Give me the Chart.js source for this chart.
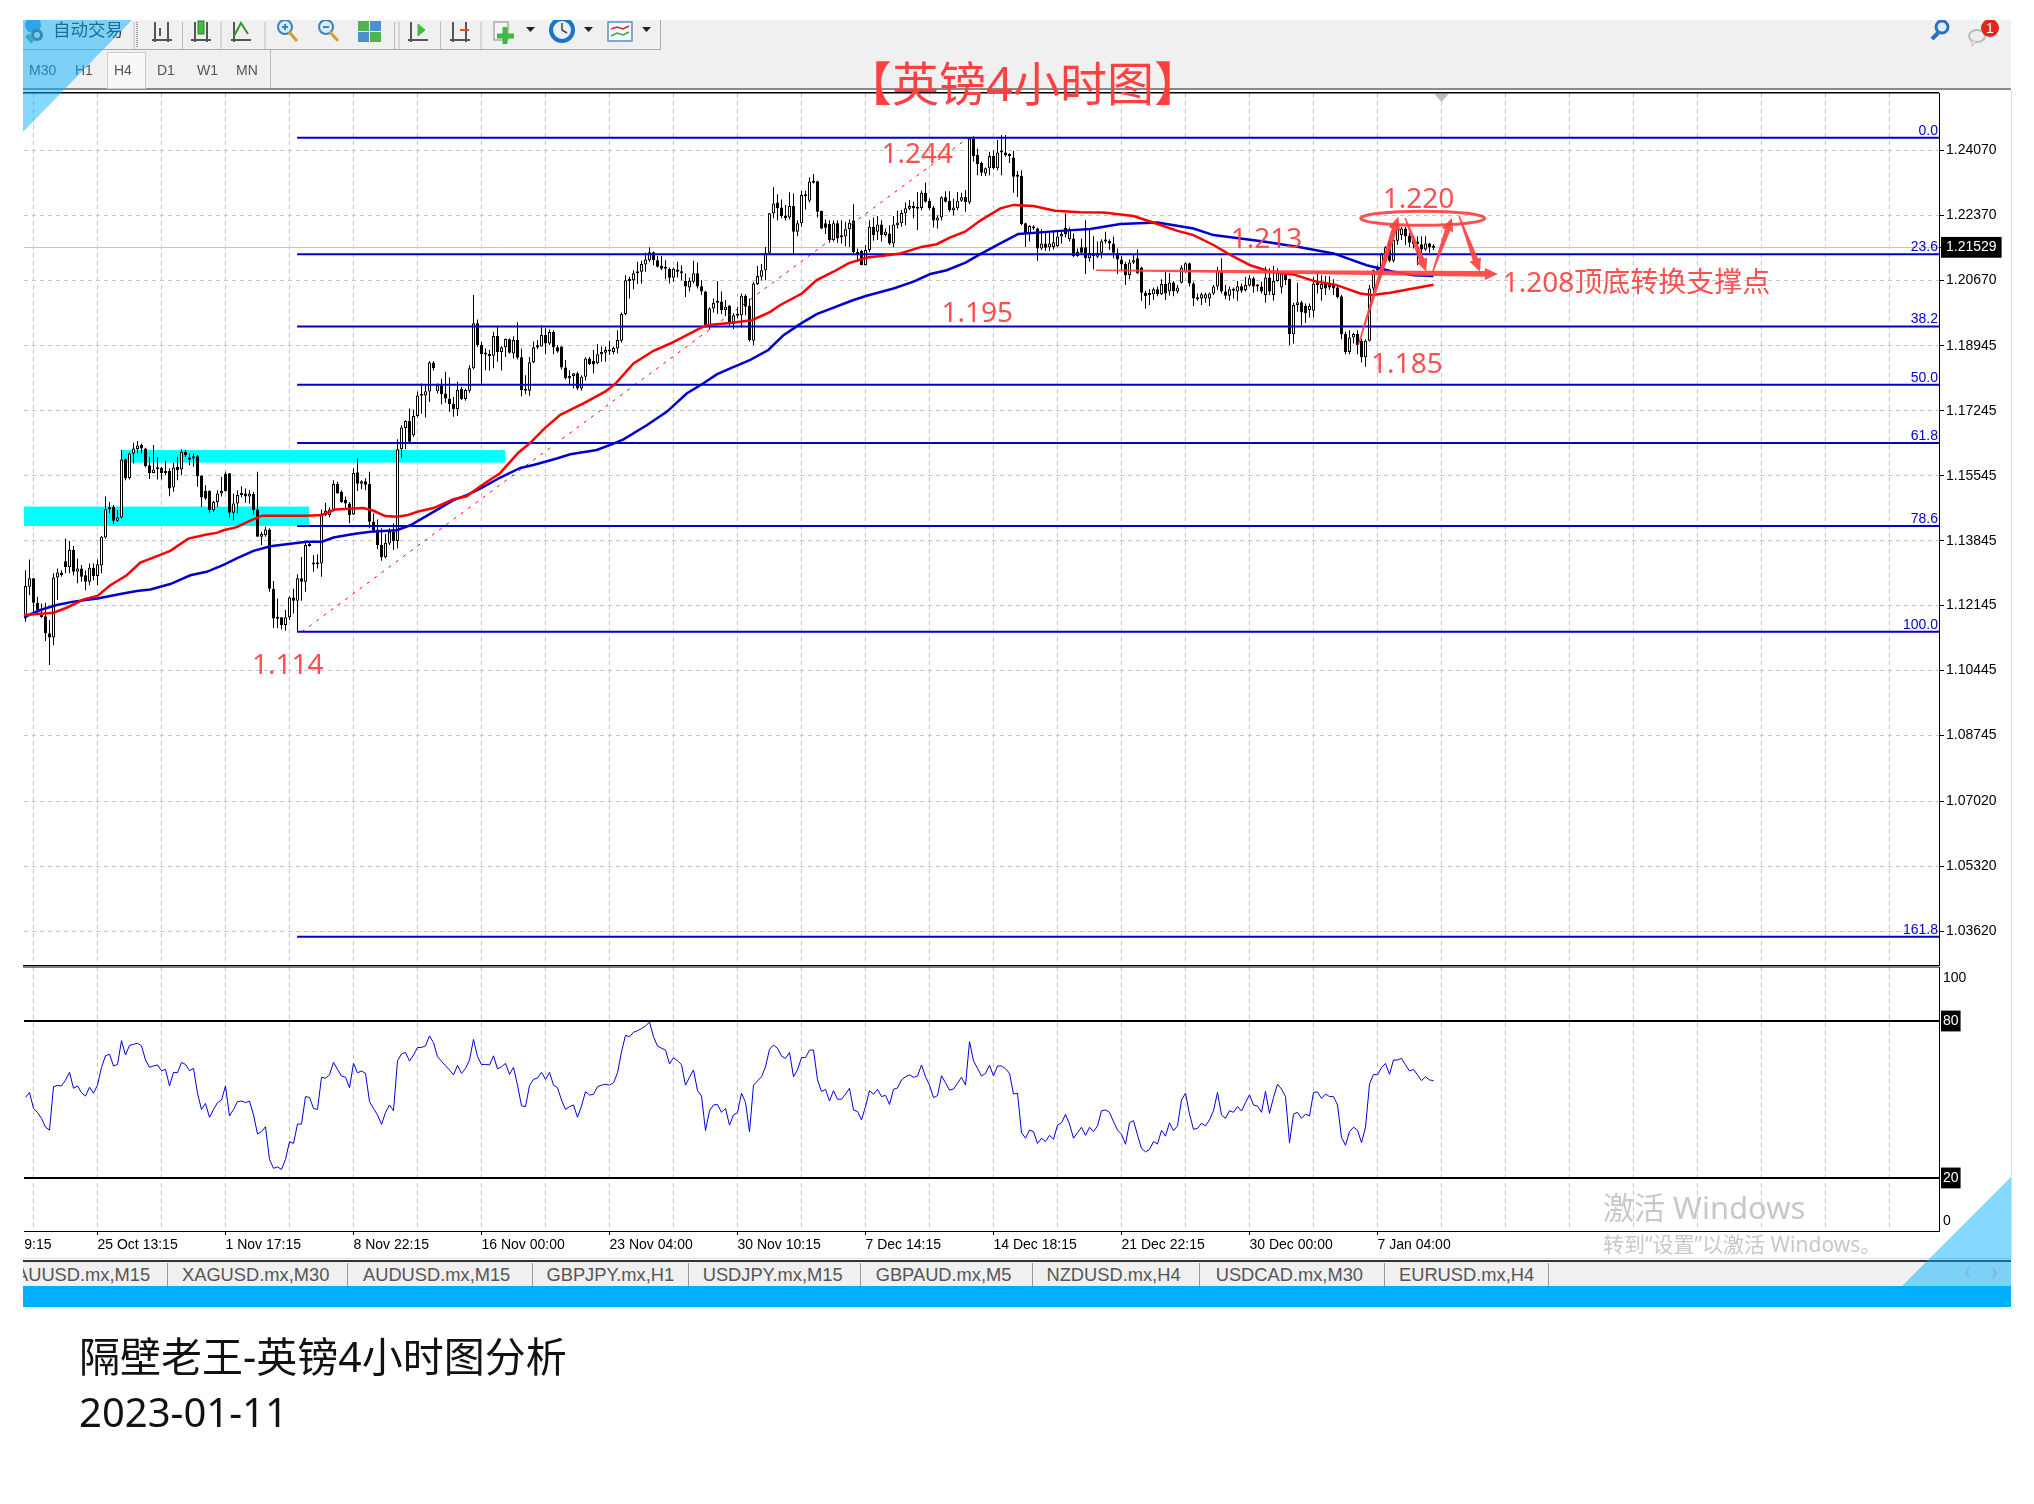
<!DOCTYPE html>
<html lang="zh">
<head>
<meta charset="utf-8">
<title>英镑4小时图</title>
<script src="https://cdn.jsdelivr.net/npm/chart.js@4/dist/chart.umd.min.js"></script>
<style>
  html, body { margin: 0; padding: 0; background: #fff; }
  #stage { position: relative; width: 2034px; height: 1504px; overflow: hidden; font-family: "Liberation Sans", sans-serif; }
  #stage > * { position: absolute; }
  .bar { background: #f0f0f0; }
  .t { white-space: nowrap; line-height: 1; }
  .cjk { font-family: "Noto Sans", "Noto Sans CJK SC", sans-serif; }
  .period { top: 63px; font-size: 14px; color: #555; }
  .tab { top: 1266px; font-size: 18.3px; color: #555; }
  .sep { width: 1px; background: #999; }
</style>
</head>
<body>
<div id="stage">
  <div class="bar" style="left:23px;top:20px;width:1988px;height:68px"></div>
  <div style="left:23px;top:49px;width:637px;height:1px;background:#aaa"></div>
  <div style="left:660px;top:20px;width:1px;height:30px;background:#aaa"></div>
  <div style="left:23px;top:88px;width:1988px;height:2px;background:#8a8a8a"></div>
  <div style="left:107px;top:52px;width:37px;height:35px;border:1px solid #ccc;background:#f8f8f8"></div>
  <div style="left:270px;top:50px;width:1px;height:38px;background:#bbb"></div>
  <div style="left:2011px;top:90px;width:1px;height:1170px;background:#ddd"></div>

  <canvas id="priceChart" width="2034" height="967" style="left:0;top:0"></canvas>
  <canvas id="rsiChart" width="2034" height="306" style="left:0;top:966px"></canvas>

  <div style="left:23px;top:1258px;width:1988px;height:1px;background:#ddd"></div>
  <div class="bar" style="left:23px;top:1262px;width:1988px;height:24px"></div>
  <div style="left:23px;top:1260px;width:1988px;height:2px;background:#333"></div>
  <div style="left:23px;top:1286px;width:1988px;height:21px;background:#00b0ff"></div>
  <div id="tabs" style="left:23px;top:0;width:1988px;height:1504px;overflow:hidden;pointer-events:none"></div>

  <svg width="2034" height="100" style="left:0;top:0">
    <defs><clipPath id="tbClip"><rect x="23" y="20" width="1988" height="70"/></clipPath></defs>
    <g clip-path="url(#tbClip)" fill="none" stroke="#555" stroke-width="2">
      <circle cx="33" cy="25" r="8" fill="#5b9bd5" stroke="none"/>
      <circle cx="37" cy="35" r="6" fill="#666" stroke="none"/>
      <circle cx="37" cy="35" r="3" fill="#e8e8e8" stroke="none"/>
      <path d="M27 35l6 7" stroke="#6fb36f" stroke-width="5"/>
      <path d="M134 22v27M182.500 22v27M221 22v27M265 22v27M394.500 22v27M399 22v27M440.500 22v27M481 22v27" stroke="#bbb" stroke-width="1"/>
      <path d="M137 22v26" stroke="#999" stroke-dasharray="1 1" stroke-width="2"/>
      <path d="M152 40h20M155 22v20M168 22v20M160 28v8"/>
      <path d="M191 40h20M195 22v20M207 22v20"/>
      <rect x="198" y="21" width="6" height="13" fill="#3fbf3f" stroke="#2a8a2a" stroke-width="1"/>
      <path d="M231 40h20M234 22v20"/>
      <path d="M234 36l7-13 7 11" stroke="#2c9a2c"/>
      <circle cx="285" cy="27" r="7" fill="#d8ecfa" stroke="#3f7fc0"/>
      <path d="M289 32l8 9" stroke="#d0a030" stroke-width="3"/>
      <path d="M282 27h6M285 24v6" stroke="#3f7fc0"/>
      <circle cx="326" cy="27" r="7" fill="#d8ecfa" stroke="#3f7fc0"/>
      <path d="M330 32l8 9" stroke="#d0a030" stroke-width="3"/>
      <path d="M323 27h6" stroke="#3f7fc0"/>
      <rect x="358" y="21" width="11" height="10" fill="#4fb34f" stroke="none"/>
      <rect x="370" y="21" width="11" height="10" fill="#4f8fd0" stroke="none"/>
      <rect x="358" y="32" width="11" height="10" fill="#4f8fd0" stroke="none"/>
      <rect x="370" y="32" width="11" height="10" fill="#4fb34f" stroke="none"/>
      <path d="M408 40h20M411 22v20"/>
      <path d="M418 24v12l7-6z" fill="#3fbf3f" stroke="#3fbf3f" stroke-width="1"/>
      <path d="M450 40h20M453 22v20M466 22v20"/>
      <path d="M460 30h9" stroke="#e05020"/>
      <rect x="494" y="22" width="14" height="18" fill="#f5f5f5" stroke="#888" stroke-width="1"/>
      <path d="M505 27v17M497 36h17" stroke="#3fb83f" stroke-width="5"/>
      <path d="M526 27h9l-4.500 5zM584 27h9l-4.500 5zM642 27h9l-4.500 5z" fill="#222" stroke="none"/>
      <circle cx="562" cy="30" r="11" fill="#e8f0f8" stroke="#1c72c8" stroke-width="4"/>
      <path d="M562 23v7l5 3" stroke="#444" stroke-width="1.500"/>
      <rect x="608" y="22" width="24" height="19" fill="#f4f8fc" stroke="#5c8fc0" stroke-width="1.500"/>
      <path d="M611 29l6-2 6 2 6-3" stroke="#c83020" stroke-width="1.500"/>
      <path d="M611 36l6-3 6 2 6-3" stroke="#3fa83f" stroke-width="1.500"/>
      <circle cx="1942" cy="27" r="6" fill="#dcecfa" stroke="#2a70c0" stroke-width="3"/>
      <path d="M1938 33l-6 6" stroke="#2a70c0" stroke-width="4"/>
      <ellipse cx="1977" cy="36" rx="8" ry="6" fill="#eee" stroke="#bbb"/>
      <path d="M1972 41v5l4-4" fill="#eee" stroke="#bbb" stroke-width="1"/>
      <circle cx="1990" cy="28" r="9" fill="#dd2a1c" stroke="none"/>
    </g>
  </svg>
  <div class="t" style="left:1986px;top:21px;font-size:14px;color:#fff">1</div>
  <div class="t cjk" style="left:53px;top:21px;font-size:17.500px;color:#333">自动交易</div>
  <div class="t period" style="left:29px">M30</div>
  <div class="t period" style="left:75px">H1</div>
  <div class="t period" style="left:114px">H4</div>
  <div class="t period" style="left:157px">D1</div>
  <div class="t period" style="left:197px">W1</div>
  <div class="t period" style="left:236px">MN</div>

  <div class="t cjk" style="left:845px;top:60px;font-size:47px;color:#ff4040">【英镑4小时图】</div>
  <div class="t cjk" style="left:1603px;top:1192px;font-size:31px;color:#c8c8c8">激活 Windows</div>
  <div class="t cjk" style="left:1603px;top:1234px;font-size:21px;color:#c8c8c8">转到“设置”以激活 Windows。</div>
  <div class="t cjk" style="left:79px;top:1336px;font-size:41px;color:#111">隔壁老王-英镑4小时图分析</div>
  <div class="t cjk" style="left:79px;top:1392px;font-size:40px;color:#111">2023-01-11</div>

  <svg width="2034" height="1504" style="left:0;top:0;pointer-events:none">
    <path d="M23 20H132L23 132Z" fill="rgba(0,176,255,0.48)"/>
    <path d="M2011 1177L1902 1286H2011Z" fill="rgba(0,176,255,0.48)"/>
    <path d="M1969 1268l-3 5 3 5M1993 1268l3 5-3 5" fill="none" stroke="#8ab4cc" stroke-width="2"/>
  </svg>
</div>

<script>
// prices, in 1/10000 units, one entry per H4 bar
const highs = [
  11307,11335,11286,11238,11220,11222,11177,11299,11312,11307,
  11390,11384,11371,11338,11321,11307,11325,11325,11335,11397,
  11501,11486,11478,11465,11622,11600,11615,11641,11646,11639,
  11628,11604,11635,11603,11578,11594,11574,11589,11604,11624,
  11622,11613,11613,11609,11556,11530,11517,11489,11517,11552,
  11565,11562,11508,11517,11527,11521,11517,11513,11565,11408,
  11421,11417,11279,11233,11185,11203,11239,11259,11297,11342,
  11382,11382,11347,11349,11466,11484,11472,11543,11539,11517,
  11500,11486,11574,11600,11543,11548,11565,11456,11440,11417,
  11402,11417,11430,11650,11687,11700,11731,11728,11775,11796,
  11792,11855,11855,11796,11809,11827,11812,11761,11801,11788,
  11783,11844,12028,11964,11905,11888,11884,11932,11945,11894,
  11914,11914,11920,11957,11888,11818,11866,11906,11910,11949,
  11941,11938,11936,11897,11894,11858,11831,11824,11827,11818,
  11865,11866,11884,11900,11893,11893,11908,11893,11936,11982,
  12080,12076,12093,12115,12118,12139,12153,12142,12130,12130,
  12119,12100,12100,12115,12106,12085,12074,12118,12113,12067,
  12039,11996,12019,12065,12037,12015,12002,11980,11997,12032,
  12030,12019,12063,12104,12109,12154,12243,12310,12292,12278,
  12264,12297,12294,12224,12301,12301,12336,12345,12327,12249,
  12226,12224,12223,12224,12224,12220,12226,12266,12150,12146,
  12159,12224,12231,12235,12224,12202,12211,12235,12249,12250,
  12270,12277,12272,12298,12301,12323,12281,12261,12237,12287,
  12300,12300,12281,12298,12296,12303,12441,12444,12412,12377,
  12362,12403,12406,12434,12447,12447,12399,12406,12353,12355,
  12217,12211,12211,12205,12200,12191,12194,12194,12194,12194,
  12242,12205,12189,12150,12176,12224,12198,12182,12168,12174,
  12194,12174,12181,12150,12130,12115,12121,12133,12147,12102,
  12039,12043,12048,12050,12069,12089,12086,12065,12054,12106,
  12113,12113,12063,12032,12034,12034,12034,12054,12102,12124,
  12054,12050,12048,12065,12058,12076,12080,12076,12057,12063,
  12102,12098,12104,12098,12086,12086,12072,12008,12060,12013,
  12006,12006,12076,12089,12080,12078,12078,12069,12054,12028,
  11932,11936,11929,11936,11914,11912,12054,12095,12106,12139,
  12156,12172,12176,12207,12207,12207,12191,12181,12181,12182,
  12182,12165,12161
];
const lows = [
  11172,11242,11194,11190,11183,11122,11059,11111,11229,11290,
  11299,11299,11294,11273,11277,11255,11268,11281,11268,11299,
  11390,11456,11428,11434,11443,11543,11545,11587,11613,11613,
  11576,11546,11561,11545,11545,11556,11501,11513,11543,11556,
  11604,11582,11578,11526,11473,11491,11458,11460,11473,11500,
  11513,11445,11438,11456,11498,11484,11482,11453,11395,11373,
  11395,11251,11155,11155,11152,11149,11177,11194,11146,11227,
  11251,11369,11303,11312,11290,11449,11445,11465,11508,11484,
  11465,11430,11452,11515,11519,11517,11417,11408,11362,11332,
  11338,11373,11360,11364,11602,11624,11639,11657,11707,11718,
  11707,11748,11830,11770,11742,11746,11722,11709,11711,11753,
  11751,11772,11833,11892,11795,11831,11830,11836,11853,11830,
  11866,11875,11862,11859,11762,11768,11764,11849,11886,11893,
  11873,11897,11873,11877,11833,11807,11795,11783,11779,11777,
  11804,11845,11823,11847,11853,11853,11871,11873,11875,11903,
  11975,12019,12043,12057,12058,12089,12115,12106,12100,12093,
  12069,12058,12063,12074,12067,12023,12037,12058,12045,12028,
  11943,11938,11982,11978,11978,11973,11945,11939,11967,11943,
  11975,11906,11897,12054,12067,12067,12135,12229,12223,12229,
  12223,12226,12135,12182,12207,12252,12270,12320,12231,12200,
  12188,12165,12168,12165,12163,12156,12154,12137,12115,12106,
  12105,12141,12170,12172,12168,12181,12159,12153,12202,12207,
  12211,12250,12229,12198,12250,12270,12250,12205,12202,12223,
  12270,12246,12237,12250,12272,12246,12266,12377,12342,12340,
  12340,12342,12357,12355,12342,12390,12374,12296,12285,12211,
  12154,12168,12198,12118,12146,12144,12144,12147,12153,12163,
  12179,12168,12127,12128,12133,12083,12115,12095,12124,12124,
  12163,12146,12124,12083,12093,12054,12069,12109,12083,12013,
  11992,12002,12015,12025,12028,12015,12027,12025,12032,12058,
  12086,12050,11999,12013,12002,12008,11999,12028,12041,12032,
  12017,12013,12019,12013,12034,12037,12050,12034,12037,12032,
  12008,12028,12013,12063,12032,12054,11897,11901,11984,11949,
  11955,11969,11969,12032,12013,12028,12041,12028,12019,11912,
  11873,11873,11901,11873,11851,11840,11906,12023,12085,12086,
  12111,12114,12113,12159,12172,12159,12153,12150,12106,12137,
  12144,12139,12146
];
const opens = [
  11181,11264,11286,11222,11190,11187,11142,11131,11288,11301,
  11331,11316,11360,11303,11312,11294,11277,11314,11292,11320,
  11393,11467,11473,11437,11445,11598,11548,11613,11625,11635,
  11626,11582,11562,11574,11575,11566,11568,11524,11578,11571,
  11617,11601,11600,11606,11554,11515,11515,11465,11485,11508,
  11559,11561,11458,11482,11504,11508,11500,11507,11466,11395,
  11399,11414,11259,11182,11184,11164,11184,11236,11227,11286,
  11277,11371,11327,11328,11325,11452,11451,11466,11533,11513,
  11491,11482,11453,11564,11534,11540,11533,11434,11414,11373,
  11341,11377,11408,11384,11624,11680,11698,11661,11711,11765,
  11765,11775,11851,11776,11792,11770,11757,11744,11729,11782,
  11756,11777,11836,11954,11897,11877,11872,11869,11921,11879,
  11891,11912,11875,11910,11865,11781,11777,11852,11891,11893,
  11923,11901,11931,11891,11893,11838,11810,11816,11823,11783,
  11814,11862,11855,11849,11873,11877,11884,11879,11888,11908,
  11978,12067,12067,12085,12089,12108,12119,12140,12119,12104,
  12099,12096,12073,12095,12090,12065,12048,12063,12085,12051,
  12037,11949,11993,12011,12011,11989,12000,11952,11977,11975,
  12026,12000,11908,12057,12076,12093,12139,12242,12270,12257,
  12236,12231,12261,12194,12216,12292,12275,12327,12326,12248,
  12216,12214,12172,12216,12182,12181,12200,12223,12141,12143,
  12106,12146,12207,12194,12213,12185,12189,12163,12211,12216,
  12242,12254,12261,12257,12256,12296,12275,12257,12223,12231,
  12284,12274,12250,12255,12275,12285,12270,12438,12395,12374,
  12346,12360,12392,12360,12401,12401,12397,12388,12340,12340,
  12216,12189,12207,12202,12150,12163,12153,12154,12156,12181,
  12204,12174,12176,12130,12153,12153,12124,12139,12128,12139,
  12170,12170,12163,12139,12121,12109,12080,12113,12124,12100,
  12034,12031,12030,12043,12030,12057,12037,12061,12037,12060,
  12089,12111,12058,12022,12019,12019,12019,12032,12050,12092,
  12037,12026,12043,12037,12051,12041,12053,12072,12052,12050,
  12028,12074,12028,12065,12048,12083,12070,11925,12002,12009,
  12000,11989,11987,12063,12043,12060,12060,12058,12048,12025,
  11926,11879,11917,11926,11908,11865,11908,12045,12092,12093,
  12115,12168,12118,12170,12185,12202,12184,12172,12168,12161,
  12147,12163,12152
];
const closes = [
  11266,11286,11222,11203,11185,11142,11131,11288,11301,11294,
  11316,11360,11303,11312,11290,11277,11314,11292,11323,11395,
  11467,11472,11437,11445,11597,11548,11613,11626,11634,11626,
  11580,11562,11571,11572,11562,11562,11521,11576,11569,11617,
  11609,11597,11606,11554,11498,11495,11465,11486,11508,11515,
  11515,11458,11482,11504,11508,11500,11508,11465,11395,11402,
  11414,11259,11181,11180,11163,11184,11236,11227,11286,11277,
  11373,11373,11322,11323,11456,11463,11466,11533,11508,11486,
  11482,11452,11562,11534,11540,11531,11434,11412,11373,11341,
  11379,11408,11384,11624,11681,11698,11644,11711,11765,11764,
  11776,11851,11836,11792,11768,11757,11742,11729,11779,11756,
  11779,11836,11954,11897,11873,11872,11868,11921,11879,11891,
  11913,11877,11910,11864,11779,11777,11852,11891,11896,11923,
  11901,11931,11891,11880,11838,11810,11816,11823,11783,11814,
  11862,11847,11846,11873,11879,11884,11880,11889,11910,11978,
  12067,12065,12085,12090,12109,12121,12140,12119,12102,12097,
  12097,12073,12097,12089,12085,12050,12065,12085,12050,12037,
  11949,11993,12008,12008,11989,11997,11954,11975,11974,12026,
  11997,11910,12058,12078,12093,12139,12242,12268,12255,12235,
  12230,12261,12194,12216,12290,12287,12325,12322,12246,12202,
  12204,12172,12216,12176,12179,12200,12217,12141,12135,12106,
  12146,12207,12185,12213,12185,12194,12163,12213,12218,12243,
  12255,12261,12255,12254,12296,12272,12255,12223,12231,12284,
  12272,12250,12257,12275,12284,12271,12438,12392,12371,12348,
  12360,12392,12360,12401,12403,12395,12392,12338,12338,12214,
  12189,12209,12202,12150,12163,12152,12163,12166,12181,12188,
  12187,12198,12130,12141,12139,12124,12139,12130,12139,12169,
  12168,12163,12139,12121,12108,12080,12113,12119,12085,12034,
  12025,12028,12043,12030,12057,12032,12061,12038,12048,12100,
  12111,12058,12019,12017,12030,12030,12032,12050,12092,12037,
  12026,12043,12039,12051,12039,12054,12072,12050,12050,12037,
  12074,12037,12065,12086,12085,12067,11925,12002,12009,11982,
  11980,12000,12058,12054,12057,12045,12048,12045,12023,11925,
  11879,11917,11926,11897,11865,11908,12045,12093,12095,12135,
  12153,12118,12172,12202,12202,12182,12165,12161,12161,12147,
  12163,12153,12153
];

// moving averages, read at the bends of each curve
const redBars = [
  -0.4,7,10.3,14.5,18,21.2,25.3,28.7,32.4,36.2,40.7,45.3,47.8,49.5,52.8,56.2,59.1,70.3,74.1,77.4,
  84.5,87,89.9,92.8,95.3,98.2,102,107,110.3,113.7,117,118.7,123.2,126.2,129.9,133.7,139.5,144.9,147.4,152,
  157,161.2,168.7,170.3,176,181.6,186.2,188.7,194.1,197.8,202,205.7,210.3,214.5,218.7,224,227.8,231.2,234.9,238.7,
  243.7,247,252,257.4,263.7,269.5,277,283,288,292,297,301.2,306.2,311.2,317,322,327.8,333.7,336.6,341.2,346.2,352
];
const redValues = [
  11190,11196,11209,11231,11240,11268,11294,11327,11342,11358,11390,11401,11405,11412,11420,11437,11450,11450,11452,11466,
  11470,11463,11449,11447,11451,11461,11470,11493,11501,11527,11550,11562,11615,11641,11680,11714,11744,11775,11795,11849,
  11882,11901,11941,11949,11955,11962,11984,12002,12032,12067,12089,12111,12126,12131,12137,12154,12161,12179,12194,12223,
  12255,12264,12261,12249,12245,12244,12235,12214,12196,12185,12159,12133,12106,12089,12082,12065,12054,12032,12028,12034,12044,12055
];
const blueBars = [
  -0.4,3.7,7.8,12,18,23.7,27.8,31.2,36.2,41.2,45.3,49.5,52.8,57,61.2,70.3,74.1,77,82,86.2,92.8,96.2,102,107,110.3,113.7,118.7,
  123.7,127,132.8,136.2,142.8,147,149.5,155.3,160.3,165.3,169.5,172.8,176.2,181.2,185.7,189.5,194.1,197.8,207,210.3,217,222,226.2,230.3,235,238.7,
  243.7,248.2,258.7,266.2,273.7,283,292,297,309.5,318.7,327,335.3,342,347,352
];
const blueValues = [
  11184,11203,11216,11225,11233,11245,11253,11257,11271,11294,11303,11321,11338,11358,11370,11382,11382,11393,11402,11408,11412,11425,11460,11491,11504,11521,11550,
  11575,11583,11600,11611,11622,11639,11650,11687,11722,11770,11797,11820,11836,11858,11884,11923,11955,11978,12015,12026,12045,12063,12083,12093,12113,12135,
  12163,12188,12196,12201,12214,12218,12202,12185,12168,12153,12137,12106,12089,12080,12078
];

const rsiValues = [
  50.8,52.7,46.6,45.0,42.8,39.4,38.3,54.9,55.4,55.2,57.4,60.4,54.3,55.2,52.6,51.3,54.7,52.4,55.5,62.3,
  66.7,67.3,62.8,63.4,72.5,67.0,70.7,71.1,71.5,70.5,65.1,62.3,62.8,63.2,61.0,61.5,55.2,60.4,60.2,64.2,
  63.4,61.0,61.9,52.4,46.2,48.5,43.2,46.2,48.8,49.8,55.2,43.7,46.2,49.2,49.4,48.8,49.4,44.1,36.8,37.7,
  39.6,27.1,23.7,24.2,23.3,27.1,33.9,33.2,40.6,40.6,51.1,50.8,46.6,46.2,58.5,58.1,59.4,64.2,61.5,59.0,
  58.5,54.5,63.8,60.2,60.9,60.0,49.2,46.6,44.1,40.5,45.0,47.9,45.7,64.8,67.4,68.0,64.7,67.0,69.9,69.9,
  70.5,74.3,71.7,66.4,64.6,62.9,61.3,59.4,63.1,60.0,61.9,65.1,73.0,66.4,63.4,63.4,63.2,66.7,61.7,62.5,
  63.8,59.6,62.3,55.5,47.6,47.3,55.3,57.7,58.2,60.4,57.7,60.4,55.5,54.5,49.8,46.2,47.3,47.9,43.2,47.5,
  53.0,51.7,52.0,54.9,55.5,55.8,55.5,56.4,60.2,68.3,74.5,74.0,75.7,76.3,77.1,78.1,79.6,74.0,70.4,69.6,
  68.9,63.6,66.0,64.8,63.3,55.5,58.5,61.3,53.4,51.3,38.1,45.7,47.9,48.1,45.1,46.6,40.2,44.1,45.0,52.4,
  48.9,37.7,55.5,57.1,58.7,62.5,69.2,70.8,69.6,66.6,65.7,68.0,58.7,61.3,66.0,66.0,68.9,68.9,57.5,53.0,
  53.9,49.4,53.4,50.1,50.1,52.1,54.3,46.0,45.4,42.2,47.3,53.4,52.0,53.9,51.1,51.6,48.1,53.9,54.4,57.5,
  58.7,59.4,58.5,59.0,63.2,58.7,55.5,50.7,51.5,59.1,56.4,53.6,54.0,56.2,58.5,55.5,72.1,64.8,61.9,59.0,
  60.0,63.1,59.0,62.8,62.8,61.8,60.0,52.1,52.4,37.3,35.2,38.3,37.7,33.2,35.2,33.9,36.3,34.8,40.2,41.1,
  44.3,40.6,35.2,37.3,39.4,36.3,39.4,37.7,39.9,45.7,46.0,45.1,41.5,38.3,36.7,32.9,41.1,41.9,36.4,31.3,
  30.0,30.9,33.9,33.0,38.2,36.0,41.1,38.1,39.9,49.8,52.4,44.4,38.6,39.0,40.9,39.9,42.2,45.7,52.7,44.1,
  42.8,45.7,45.1,47.3,45.6,48.8,51.8,47.9,47.5,45.1,53.1,44.7,50.8,55.8,54.0,51.1,33.5,44.4,45.1,42.8,
  44.4,43.7,52.7,52.9,50.4,52.1,51.1,51.1,47.9,35.5,32.5,37.7,39.4,38.3,33.5,39.4,55.9,59.6,59.4,62.2,
  63.8,59.6,65.1,65.1,65.7,63.2,60.9,61.5,59.4,57.2,58.7,57.5,57.2
];

const priceTicks = [1.24070,1.22370,1.20670,1.18945,1.17245,1.15545,1.13845,1.12145,1.10445,1.08745,1.07020,1.05320,1.03620];
const lastPrice = 1.21529;
const rsiTicks = [100,80,20,0];
const timeLabels = ['9:15','25 Oct 13:15','1 Nov 17:15','8 Nov 22:15','16 Nov 00:00','23 Nov 04:00','30 Nov 10:15','7 Dec 14:15','14 Dec 18:15','21 Dec 22:15','30 Dec 00:00','7 Jan 04:00'];
const timeBars = [-0.3,18,50,82,114,146,178,210,242,274,306,338];
const gridBars = [2,18,34,50,66,82,98,114,130,146,162,178,194,210,226,242,258,274,290,306,322,338,354,370,386,402,418,434,450,466];

const fibNames = ['0.0','23.6','38.2','50.0','61.8','78.6','100.0','161.8'];
const fibPrices = [1.24400,1.21346,1.19457,1.17930,1.16403,1.14229,1.11460,1.03470];
const fibStartBar = 67.9;

const trendBars = [69.1,235.7];
const trendPrices = [1.1146,1.2440];

// [first bar, last bar, low price, high price]
const zones = [[24,119.9,1.1589,1.1622],[-0.4,70.9,1.1423,1.1474]];
// [from bar, from price, to bar, to price]
const arrows = [
  [267.6,1.2093,368.1,1.2083],
  [333.2,1.1897,343.2,1.2233],
  [344.9,1.2230,350.2,1.2089],
  [351.8,1.2089,356.6,1.2230],
  [358.4,1.2235,363.6,1.2089]
];
const ringBar = 349.3, ringPrice = 1.2229;
const noteTexts = ['1.114','1.244','1.195','1.213','1.220','1.185','1.208顶底转换支撑点'];
const noteBars = [56.6,214,229,301.3,339.3,336.4,369.3];
const notePrices = [1.1035,1.2375,1.1958,1.2152,1.2257,1.1823,1.2037];

const tabNames = ['AUUSD.mx,M15','XAGUSD.mx,M30','AUDUSD.mx,M15','GBPJPY.mx,H1','USDJPY.mx,M15','GBPAUD.mx,M5','NZDUSD.mx,H4','USDCAD.mx,M30','EURUSD.mx,H4'];

// bottom tab strip
const tabText = [-7,159,340,523.500,679.700,852.700,1023.500,1192.700,1376];
const tabSeps = [144,324.400,508.600,664.700,836.500,1008.600,1176.400,1360.600,1524.500];
const tabsEl = document.getElementById('tabs');
tabNames.forEach((name, k) => {
  const t = document.createElement('div');
  t.className = 'tab t';
  t.style.cssText = 'position:absolute;left:' + tabText[k] + 'px';
  t.textContent = name;
  tabsEl.appendChild(t);
  const s = document.createElement('div');
  s.className = 'sep';
  s.style.cssText = 'position:absolute;top:1263px;height:23px;left:' + tabSeps[k] + 'px';
  tabsEl.appendChild(s);
});

Chart.defaults.font.family = '"Liberation Sans", sans-serif';
Chart.defaults.font.size = 14;
Chart.defaults.color = '#000';

const xMin = -0.375, xMax = 478.375;
const RED = 'rgba(255,64,64,0.92)';
const DASH = [4, 4];
const toPrice = v => v / 10000;

// chart.js keeps room for half a tick label at the ends, this pane has none
function noScalePadding(s) {
  s.paddingTop = 0;
  s.paddingBottom = 0;
  s.paddingLeft = 0;
  s.paddingRight = 0;
}

function drawArrow(ctx, x0, y0, x1, y1) {
  const len = Math.hypot(x1 - x0, y1 - y0);
  const ux = (x1 - x0) / len, uy = (y1 - y0) / len;
  const px = -uy, py = ux;
  const neckX = x1 - ux * 13, neckY = y1 - uy * 13;
  ctx.beginPath();
  ctx.moveTo(x0 + px * 0.7, y0 + py * 0.7);
  ctx.lineTo(neckX + px * 2.8, neckY + py * 2.8);
  ctx.lineTo(neckX + px * 6, neckY + py * 6);
  ctx.lineTo(x1, y1);
  ctx.lineTo(neckX - px * 6, neckY - py * 6);
  ctx.lineTo(neckX - px * 2.8, neckY - py * 2.8);
  ctx.lineTo(x0 - px * 0.7, y0 - py * 0.7);
  ctx.closePath();
  ctx.fill();
}

const priceDrawings = {
  id: 'priceDrawings',
  beforeDatasetsDraw(chart) {
    const { ctx, scales: { x, y } } = chart;
    ctx.save();
    ctx.fillStyle = '#00ffff';
    zones.forEach(z => {
      const left = x.getPixelForValue(z[0]), top = y.getPixelForValue(z[3]);
      ctx.fillRect(left, top, x.getPixelForValue(z[1]) - left, y.getPixelForValue(z[2]) - top);
    });
    ctx.restore();
  },
  afterDatasetsDraw(chart) {
    const { ctx, chartArea, scales: { x, y } } = chart;
    ctx.save();
    // fib level names
    ctx.fillStyle = '#0000cd';
    ctx.font = '14px "Liberation Sans"';
    ctx.textAlign = 'right';
    ctx.textBaseline = 'alphabetic';
    fibNames.forEach((name, k) => ctx.fillText(name, chartArea.right - 1, y.getPixelForValue(fibPrices[k]) - 3));

    // hand drawn marks on top of the screenshot
    ctx.fillStyle = RED;
    ctx.strokeStyle = RED;
    arrows.forEach(a => drawArrow(ctx, x.getPixelForValue(a[0]), y.getPixelForValue(a[1]), x.getPixelForValue(a[2]), y.getPixelForValue(a[3])));
    ctx.lineWidth = 3;
    ctx.beginPath();
    ctx.ellipse(x.getPixelForValue(ringBar), y.getPixelForValue(ringPrice), 62, 7, 0, 0, Math.PI * 2);
    ctx.stroke();
    ctx.font = '28px "Noto Sans", "Noto Sans CJK SC"';
    ctx.textAlign = 'left';
    noteTexts.forEach((txt, k) => ctx.fillText(txt, x.getPixelForValue(noteBars[k]), y.getPixelForValue(notePrices[k])));

    // pane frame, shift marker
    ctx.fillStyle = '#bdbdbd';
    const mx = x.getPixelForValue(354);
    ctx.beginPath();
    ctx.moveTo(mx - 7, chartArea.top + 1);
    ctx.lineTo(mx + 7, chartArea.top + 1);
    ctx.lineTo(mx, chartArea.top + 9);
    ctx.fill();
    ctx.fillStyle = '#000';
    ctx.fillRect(23, chartArea.top - 1, chartArea.right - 23, 1.5);
    ctx.fillRect(23, chartArea.bottom, chartArea.right - 23, 1);
    ctx.restore();
  }
};

new Chart(document.getElementById('priceChart'), {
  type: 'bar',
  plugins: [priceDrawings],
  data: {
    datasets: [
      ...fibPrices.map(p => ({
        type: 'line', order: 2,
        data: [{ x: fibStartBar, y: p }, { x: xMax, y: p }],
        borderColor: '#0000cd', borderWidth: 2, pointRadius: 0
      })),
      {
        type: 'line', order: 3,
        data: trendBars.map((b, k) => ({ x: b, y: trendPrices[k] })),
        borderColor: '#ff0000', borderWidth: 1, borderDash: [3, 6], pointRadius: 0
      },
      {
        type: 'line', order: 1,
        data: blueBars.map((b, k) => ({ x: b, y: toPrice(blueValues[k]) })),
        borderColor: '#0000cd', borderWidth: 2.5, pointRadius: 0
      },
      {
        type: 'line', order: 0,
        data: redBars.map((b, k) => ({ x: b, y: toPrice(redValues[k]) })),
        borderColor: '#ff0000', borderWidth: 2.5, pointRadius: 0
      },
      {
        order: 5,
        data: highs.map((h, i) => ({ x: i, y: [toPrice(lows[i]), toPrice(h)] })),
        backgroundColor: '#000', barThickness: 1, grouped: false,
        borderWidth: 0, inflateAmount: 0, minBarLength: 1
      },
      {
        order: 4,
        data: opens.map((o, i) => ({ x: i, y: [toPrice(o), toPrice(closes[i])] })),
        backgroundColor: ctx => closes[ctx.dataIndex] >= opens[ctx.dataIndex] ? '#fff' : '#000',
        borderColor: '#000', borderWidth: 1, borderSkipped: false,
        barThickness: 3, grouped: false, inflateAmount: 0, minBarLength: 2
      }
    ]
  },
  options: {
    responsive: false,
    animation: false,
    devicePixelRatio: 1,
    events: [],
    layout: { padding: { left: 24, top: 93, right: 0, bottom: 2 } },
    plugins: { legend: { display: false }, tooltip: { enabled: false } },
    scales: {
      x: {
        type: 'linear', min: xMin, max: xMax, offset: false,
        grid: { offset: false, color: '#c4c4c4', drawTicks: false },
        border: { display: false, dash: DASH },
        ticks: { display: false },
        afterBuildTicks: s => { s.ticks = gridBars.map(value => ({ value })); },
        afterFit: s => { s.height = 0; noScalePadding(s); }
      },
      y: {
        position: 'right', min: 1.02733, max: 1.25571, beginAtZero: false,
        grid: {
          color: '#c4c4c4', tickColor: '#000', tickLength: 5
        },
        border: {
          color: '#000', width: 1,
          dash: ctx => (ctx.tick && ctx.tick.value === lastPrice ? [] : DASH)
        },
        ticks: {
          padding: 2, autoSkip: false,
          callback: v => v.toFixed(5),
          color: ctx => (ctx.tick.value === lastPrice ? '#fff' : '#000'),
          showLabelBackdrop: ctx => ctx.tick.value === lastPrice,
          backdropColor: '#000',
          backdropPadding: { x: 5, y: 2 }
        },
        afterBuildTicks: s => { s.ticks = priceTicks.concat(lastPrice).map(value => ({ value })); },
        afterFit: s => { s.width = 95; noScalePadding(s); }
      }
    }
  }
});

const rsiDrawings = {
  id: 'rsiDrawings',
  afterDraw(chart) {
    const { ctx, chartArea, scales: { y } } = chart;
    ctx.save();
    ctx.fillStyle = '#000';
    ctx.font = '14px "Liberation Sans"';
    ctx.textBaseline = 'middle';
    ctx.fillText('100', chartArea.right + 4, y.getPixelForValue(100) + 9);
    ctx.fillText('0', chartArea.right + 4, y.getPixelForValue(0) - 9);
    ctx.fillRect(23, chartArea.top - 0.5, chartArea.right - 23, 1);
    ctx.restore();
  }
};

new Chart(document.getElementById('rsiChart'), {
  type: 'line',
  plugins: [rsiDrawings],
  data: {
    datasets: [{
      data: rsiValues.map((v, i) => ({ x: i, y: v })),
      borderColor: '#0000dd', borderWidth: 1, pointRadius: 0
    }]
  },
  options: {
    responsive: false,
    animation: false,
    devicePixelRatio: 1,
    events: [],
    layout: { padding: { left: 24, top: 1, right: 0, bottom: 0 } },
    plugins: { legend: { display: false }, tooltip: { enabled: false } },
    scales: {
      x: {
        type: 'linear', min: xMin, max: xMax, offset: false,
        grid: {
          color: ctx => (ctx.tick && ctx.tick.value < 0 ? 'transparent' : '#c4c4c4'),
          tickColor: ctx => (ctx.tick && timeBars.includes(ctx.tick.value) && ctx.tick.value > 0 ? '#000' : 'transparent'),
          tickLength: 4
        },
        border: { color: '#000', dash: DASH },
        ticks: {
          autoSkip: false, maxRotation: 0, align: 'start', padding: 2,
          callback: v => { const k = timeBars.indexOf(v); return k < 0 ? '' : timeLabels[k]; }
        },
        afterBuildTicks: s => { s.ticks = timeBars.concat(gridBars.filter(b => !timeBars.includes(b))).sort((a, b) => a - b).map(value => ({ value })); },
        afterFit: s => { s.height = 41; noScalePadding(s); }
      },
      y: {
        position: 'right', min: -0.27, max: 100.65,
        grid: {
          color: ctx => (ctx.tick && (ctx.tick.value === 80 || ctx.tick.value === 20) ? '#000' : 'transparent'),
          lineWidth: ctx => (ctx.tick && (ctx.tick.value === 80 || ctx.tick.value === 20) ? 2 : 1),
          drawTicks: false
        },
        border: { color: '#000', width: 1 },
        ticks: {
          padding: 4, autoSkip: false,
          callback: v => (v === 80 || v === 20 ? String(v) : ''),
          color: '#fff',
          showLabelBackdrop: ctx => ctx.tick.value === 80 || ctx.tick.value === 20,
          backdropColor: '#000',
          backdropPadding: { x: 2, y: 2 }
        },
        afterBuildTicks: s => { s.ticks = rsiTicks.map(value => ({ value })); },
        afterFit: s => { s.width = 95; noScalePadding(s); }
      }
    }
  }
});
</script>
</body>
</html>
